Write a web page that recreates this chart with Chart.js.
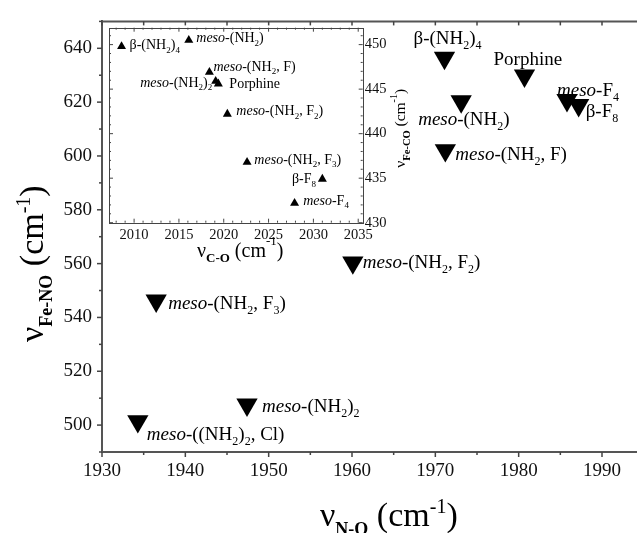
<!DOCTYPE html>
<html>
<head>
<meta charset="utf-8">
<script src="https://cdn.jsdelivr.net/npm/chart.js@4.4.1/dist/chart.umd.min.js"></script>
<style>
  html, body { margin: 0; background: #fff; }
  #wrap { position: relative; width: 637px; height: 533px; overflow: hidden; }
  #main { position: absolute; left: 0; top: 0; }
  #inset { position: absolute; left: 104px; top: 17px; }
</style>
</head>
<body>
<div id="wrap">
  <canvas id="main" width="637" height="533"></canvas>
  <canvas id="inset" width="320" height="250"></canvas>
</div>
<script>
const SERIF = "'Liberation Serif', 'Times New Roman', serif";

// main plot: nu(N-O) vs nu(Fe-NO), cm-1   (markup: *italic*, _x subscript, ^{..} superscript)
const mainNames = ["β-(NH_2)_4", "Porphine", "*meso*-F_4", "β-F_8", "*meso*-(NH_2)",
  "*meso*-(NH_2, F)", "*meso*-(NH_2, F_2)", "*meso*-(NH_2, F_3)", "*meso*-(NH_2)_2", "*meso*-((NH_2)_2, Cl)"];
const mainNO   = [1971.1, 1980.7, 1985.8, 1987.2, 1973.1, 1971.2, 1960.1, 1936.5, 1947.4, 1934.3];
const mainFeNO = [636.4, 629.8, 620.7, 618.9, 620.3, 602.1, 560.4, 546.2, 507.6, 501.4];
const mainXTicks = [1930, 1940, 1950, 1960, 1970, 1980, 1990];
const mainYTicks = [500, 520, 540, 560, 580, 600, 620, 640];

// inset: nu(C-O) vs nu(Fe-CO)
const insetNames = ["β-(NH_2)_4", "*meso*-(NH_2)", "*meso*-(NH_2, F)", "*meso*-(NH_2)_2", "Porphine",
  "*meso*-(NH_2, F_2)", "*meso*-(NH_2, F_3)", "β-F_8", "*meso*-F_4"];
const insetCO   = [2008.6, 2016.1, 2018.4, 2019.1, 2019.4, 2020.4, 2022.6, 2031.0, 2027.9];
const insetFeCO = [449.8, 450.5, 446.9, 445.9, 445.6, 442.2, 436.8, 434.9, 432.2];
const insetXTicks = [2010, 2015, 2020, 2025, 2030, 2035];
const insetYTicks = [430, 435, 440, 445, 450];

// where each label sits relative to its marker (px, baseline; 'r' = right aligned)
const mainLabelAt  = [[-31, -14], [-31, -11], [-10, -4], [7, 12], [-43, 24], [10, 10], [10, 5], [12, 8], [15, 7], [9, 19]];
const insetLabelAt = [[8, 3], [7.5, 2], [4, -1.3], [-3.5, 5.5, "r"], [11, 4], [9, 1], [7.3, 1.5], [-6.3, 4.2, "r"], [8.6, 1.8]];

const mainLbl   = { size: 19, sub: 12, subDy: 5, sup: 12, supDy: -8 };
const insetLbl  = { size: 14, sub: 9, subDy: 3.5, sup: 9, supDy: -6 };
const bigTitle  = { size: 34, sub: 18, subDy: 9, sup: 20, supDy: -13, subBold: true };
const insXTitle = { size: 20, sub: 13, subDy: 5, sup: 13, supDy: -12, subBold: true };
const insYTitle = { size: 15.5, sub: 10.5, subDy: 4.5, sup: 10, supDy: -8, subBold: true };

function richParts(src) {
  const parts = [];
  let it = false, i = 0, buf = "";
  const flush = () => { if (buf) parts.push({ t: buf, it, k: 0 }); buf = ""; };
  while (i < src.length) {
    const c = src[i];
    if (c === "*") { flush(); it = !it; i++; }
    else if (c === "_" || c === "^") {
      flush();
      let t;
      if (src[i + 1] === "{") { const j = src.indexOf("}", i); t = src.slice(i + 2, j); i = j + 1; }
      else { t = src[i + 1]; i += 2; }
      parts.push({ t, it, k: c === "_" ? 1 : -1 });
    } else { buf += c; i++; }
  }
  flush();
  return parts;
}

function drawRich(ctx, src, x, y, st, align) {
  const parts = richParts(src);
  const font = p => {
    const sz = p.k === 1 ? st.sub : p.k === -1 ? st.sup : st.size;
    const bold = p.k === 1 && st.subBold;
    return `${p.it ? "italic " : ""}${bold ? "bold " : ""}${sz}px ${SERIF}`;
  };
  let w = 0;
  parts.forEach(p => { ctx.font = font(p); p.w = ctx.measureText(p.t).width; w += p.w; });
  let cx = align === "r" ? x - w : x;
  ctx.textAlign = "left";
  ctx.textBaseline = "alphabetic";
  ctx.fillStyle = "#000";
  parts.forEach(p => {
    ctx.font = font(p);
    ctx.fillText(p.t, cx, y + (p.k === 1 ? st.subDy : p.k === -1 ? st.supDy : 0));
    cx += p.w;
  });
}

// tick marks along chart-area edges; off > 0 means down/right
function drawTicks(chart, specs) {
  const ctx = chart.ctx, a = chart.chartArea;
  specs.forEach(s => {
    const sc = chart.scales[s.scale];
    ctx.save();
    ctx.strokeStyle = s.color;
    ctx.lineWidth = s.width;
    for (let k = Math.ceil(sc.min / s.minor - 1e-9); k * s.minor <= sc.max + 1e-9; k++) {
      const v = k * s.minor;
      const major = Math.abs(v / s.major - Math.round(v / s.major)) < 1e-6;
      const len = (major ? s.majorLen : s.minorLen) * s.off;
      const p = sc.getPixelForValue(v);
      ctx.beginPath();
      if (s.edge === "bottom" || s.edge === "top") {
        const e = s.edge === "bottom" ? a.bottom : a.top;
        ctx.moveTo(p, e); ctx.lineTo(p, e + len);
      } else {
        const e = s.edge === "left" ? a.left : a.right;
        ctx.moveTo(e, p); ctx.lineTo(e + len, p);
      }
      ctx.stroke();
    }
    ctx.restore();
  });
}

function drawPointLabels(chart, names, xs, ys, at, st) {
  const { x, y } = chart.scales;
  names.forEach((n, i) => {
    const px = x.getPixelForValue(xs[i]), py = y.getPixelForValue(ys[i]);
    drawRich(chart.ctx, n, px + at[i][0], py + at[i][1], st, at[i][2]);
  });
}

const mainDeco = {
  id: "mainDeco",
  afterDraw(chart) {
    const ctx = chart.ctx, a = chart.chartArea;
    ctx.save();
    ctx.strokeStyle = "#555";
    ctx.lineWidth = 2;
    ctx.beginPath(); ctx.moveTo(a.left - 1, a.top); ctx.lineTo(a.right, a.top); ctx.stroke();
    ctx.restore();
    drawTicks(chart, [
      { scale: "x", edge: "bottom", minor: 5, major: 10, majorLen: 5, minorLen: 3, off: 1, color: "#444", width: 1.5 },
      { scale: "x", edge: "top", minor: 5, major: 10, majorLen: 4, minorLen: 4, off: 1, color: "#444", width: 1.5 },
      { scale: "y", edge: "left", minor: 10, major: 20, majorLen: 5, minorLen: 3, off: -1, color: "#444", width: 1.5 },
    ]);
    drawPointLabels(chart, mainNames, mainNO, mainFeNO, mainLabelAt, mainLbl);
    drawRich(ctx, "ν_{N-O} (cm^{-1})", a.left + 218, a.bottom + 74, bigTitle);
    ctx.save();
    ctx.translate(a.left - 59, a.bottom - 110);
    ctx.rotate(-Math.PI / 2);
    drawRich(ctx, "ν_{Fe-NO} (cm^{-1})", 0, 0, bigTitle);
    ctx.restore();
  }
};

const insetDeco = {
  id: "insetDeco",
  afterDraw(chart) {
    const ctx = chart.ctx, a = chart.chartArea;
    ctx.save();
    ctx.strokeStyle = "#444";
    ctx.lineWidth = 1;
    const l = Math.round(a.left) + 0.5, t = Math.round(a.top) + 0.5;
    const r = Math.round(a.right) + 0.5, b = Math.round(a.bottom) + 0.5;
    ctx.strokeRect(l, t, r - l, b - t);
    ctx.restore();
    const tk = { majorLen: 4, minorLen: 2, color: "#444", width: 1 };
    drawTicks(chart, [
      { ...tk, scale: "x", edge: "bottom", minor: 1, major: 5, off: -1 },
      { ...tk, scale: "x", edge: "top", minor: 1, major: 5, off: 1 },
      { ...tk, scale: "y", edge: "left", minor: 1, major: 5, off: 1 },
      { ...tk, scale: "y", edge: "right", minor: 1, major: 5, off: -1 },
    ]);
    drawPointLabels(chart, insetNames, insetCO, insetFeCO, insetLabelAt, insetLbl);
    drawRich(ctx, "ν_{C-O} (cm^{-1})", a.left + 88, a.bottom + 34.3, insXTitle);
    ctx.save();
    ctx.translate(a.right + 42.3, a.top + 140);
    ctx.rotate(-Math.PI / 2);
    drawRich(ctx, "ν_{Fe-CO} (cm^{-1})", 0, 0, insYTitle);
    ctx.restore();
  }
};

Chart.defaults.font.family = SERIF;
Chart.defaults.color = "#111";

const noGrid = { display: false, drawTicks: false };
const fixTicks = list => s => { s.ticks = list.map(value => ({ value })); };
const plain = v => String(v);

new Chart(document.getElementById("main"), {
  type: "scatter",
  data: {
    datasets: [{
      data: mainNO.map((x, i) => ({ x, y: mainFeNO[i] })),
      pointStyle: "triangle",
      pointRotation: 180,
      pointRadius: 12.3,
      pointHoverRadius: 12.3,
      backgroundColor: "#000",
      borderWidth: 0,
    }],
  },
  options: {
    responsive: false,
    animation: false,
    devicePixelRatio: 1,
    events: [],
    layout: { padding: 0, autoPadding: false },
    plugins: { legend: { display: false }, tooltip: { enabled: false } },
    scales: {
      x: {
        type: "linear", position: "bottom", min: 1930, max: 1994.2,
        ticks: { padding: 8, maxRotation: 0, autoSkip: false, font: { size: 19 }, callback: plain },
        afterBuildTicks: fixTicks(mainXTicks),
        grid: noGrid, border: { display: true, color: "#555", width: 2 },
        afterFit: s => { s.height = 81; },
      },
      y: {
        type: "linear", position: "left", min: 490, max: 650,
        ticks: { padding: 10, autoSkip: false, font: { size: 19 }, callback: plain },
        afterBuildTicks: fixTicks(mainYTicks),
        grid: noGrid, border: { display: true, color: "#555", width: 2 },
        afterFit: s => { s.width = 102; },
      },
    },
  },
  plugins: [mainDeco],
});

new Chart(document.getElementById("inset"), {
  type: "scatter",
  data: {
    datasets: [{
      data: insetCO.map((x, i) => ({ x, y: insetFeCO[i] })),
      pointStyle: "triangle",
      pointRadius: 5.2,
      pointHoverRadius: 5.2,
      backgroundColor: "#000",
      borderWidth: 0,
    }],
  },
  options: {
    responsive: false,
    animation: false,
    devicePixelRatio: 1,
    events: [],
    layout: { padding: { left: 5, top: 5, right: 0, bottom: 0 }, autoPadding: false },
    plugins: { legend: { display: false }, tooltip: { enabled: false } },
    scales: {
      x: {
        type: "linear", position: "bottom", min: 2007.2, max: 2035.5,
        ticks: { padding: 4, maxRotation: 0, autoSkip: false, font: { size: 14.5 }, callback: plain },
        afterBuildTicks: fixTicks(insetXTicks),
        grid: noGrid, border: { display: false },
        afterFit: s => { s.height = 44.3; },
      },
      y: {
        type: "linear", position: "right", min: 430, max: 451.9,
        ticks: { padding: 2, autoSkip: false, font: { size: 14.5 }, callback: plain },
        afterBuildTicks: fixTicks(insetYTicks),
        grid: noGrid, border: { display: false },
        afterFit: s => { s.width = 61.3; },
      },
    },
  },
  plugins: [insetDeco],
});
</script>
</body>
</html>
